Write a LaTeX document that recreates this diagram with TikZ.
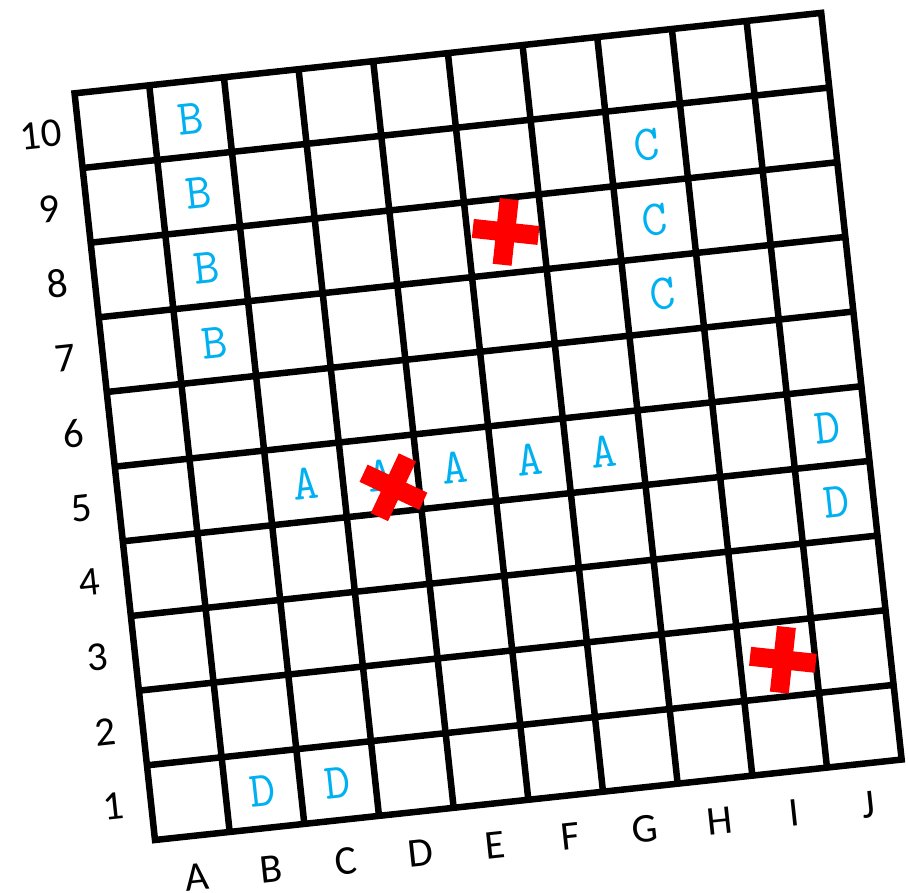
\documentclass[tikz,border=0pt]{standalone}
\usepackage{fontspec}
\setmainfont{Carlito}
\usepackage{tikz}
\usetikzlibrary{positioning}
\definecolor{shipblue}{RGB}{0,176,240}
\tikzset{
	gridlabel/.style={font=\fontsize{41}{41}\selectfont, transform shape}
}
\tikzset{
	shiptext/.style={font=\ttfamily\fontsize{50}{50}\selectfont\color{shipblue}, transform shape}
}
\tikzset{
	hitmark/.pic={
		\fill[red] (-33pt,-9.5pt) rectangle (33pt,9.5pt);
		\fill[red] (-9.5pt,-33pt) rectangle (9.5pt,33pt);
	}
}

\begin{document}
\begin{tikzpicture}[x=1pt,y=1pt]
      \useasboundingbox (0,0) rectangle (908,893);
      \begin{scope}[shift={(155pt,53pt)}, rotate=6.15, x=75.1pt, y=75.1pt]
        % the board
        \draw[line width=6.5pt, line cap=rect] (0,0) grid[step=1] (10,10);

        % column letters and row numbers
        \foreach \c [count=\i] in {A,...,J}
          \node[gridlabel] (col\c) at (\i-0.5,-0.55) {\c};
        \foreach \r in {1,...,10}
          \node[gridlabel] (row\r) at (-0.5,\r-0.5) {\r};

        % ships
        \foreach \r in {7,...,10}
          \node[shiptext] (shipB\r) at (1.5,\r-0.5) {B};
        \foreach \r in {7,8,9}
          \node[shiptext] (shipC\r) at (7.5,\r-0.5) {C};
        \foreach \i in {3,...,7}
          \node[shiptext] (shipA\i) at (\i-0.5,4.5) {A};
        \node[shiptext] (shipDa) at (9.5,4.5) {D};
        \node[shiptext] (shipDb) at (9.5,3.5) {D};
        \node[shiptext] (shipDc) at (1.5,0.5) {D};
        \node[shiptext] (shipDd) at (2.5,0.5) {D};

        % shots (marks stay upright, the last one is tilted)
        \coordinate (shot1) at (5.51,7.55);
        \coordinate (shot2) at (8.57,1.49);
        \coordinate (shot3) at (3.66,4.33);
        \pic[rotate=-6.15] at (shot1) {hitmark};
        \pic[rotate=-6.15] at (shot2) {hitmark};
        \pic[rotate=-25.15] at (shot3) {hitmark};
      \end{scope}
    \end{tikzpicture}
\end{document}
